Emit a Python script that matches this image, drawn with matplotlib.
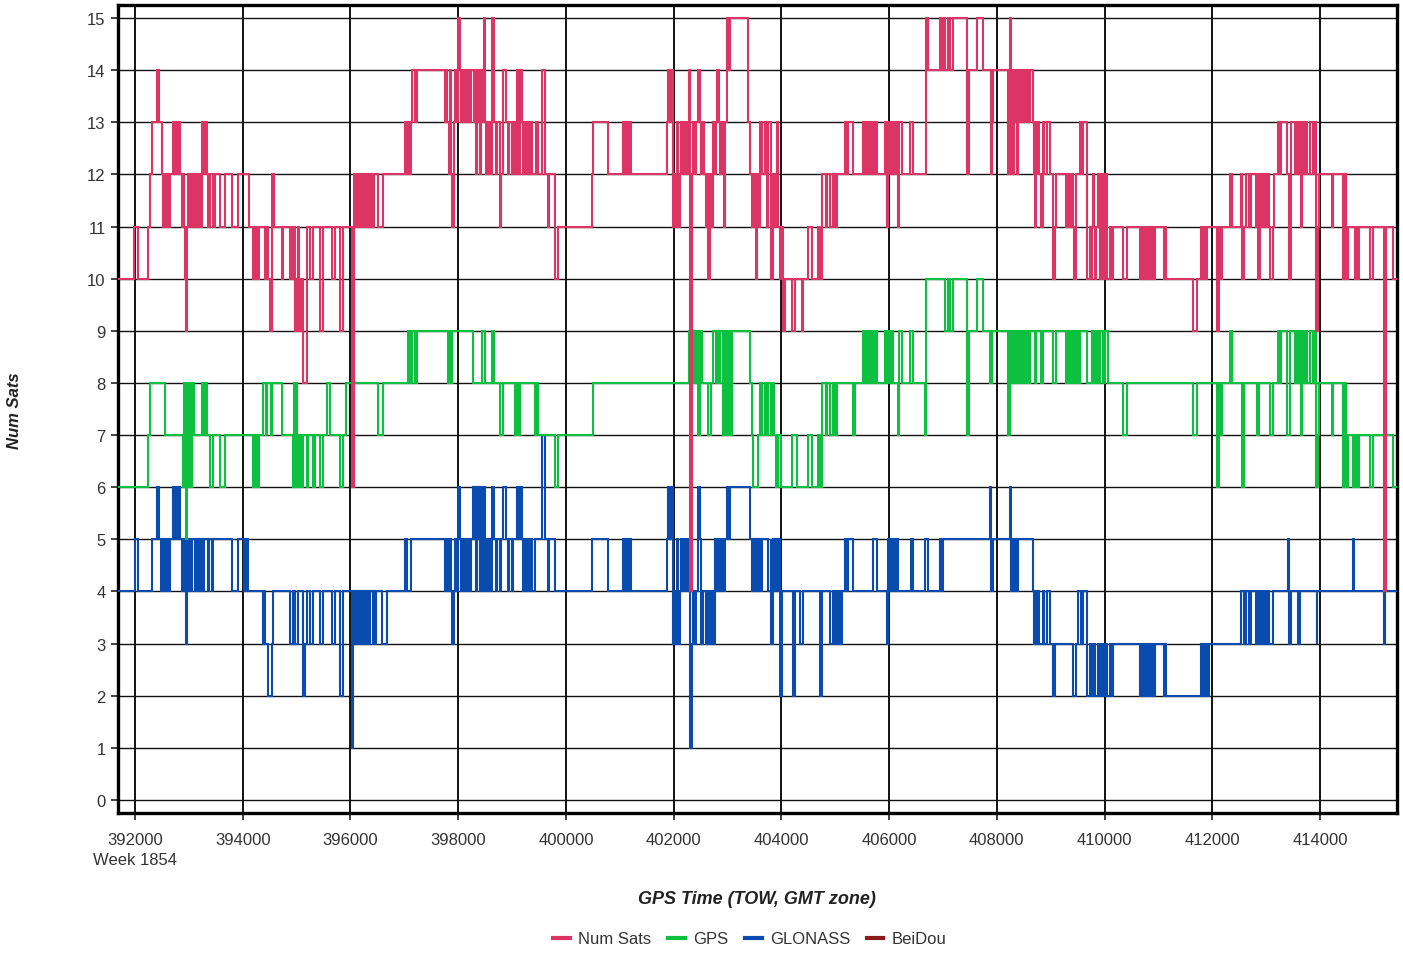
import matplotlib
matplotlib.use("Agg")
import matplotlib.pyplot as plt
from matplotlib.lines import Line2D

plt.rcParams['font.family'] = ['Liberation Sans', 'DejaVu Sans']

x_start = 391685
x_end = 415430
x_ticks = [392000, 394000, 396000, 398000, 400000, 402000, 404000,
           406000, 408000, 410000, 412000, 414000]
y_ticks = list(range(0, 16))
week_label = "Week 1854"
x_title = "GPS Time (TOW, GMT zone)"
y_title = "Num Sats"

# (TOW, value) change points, step-post
num_sats_steps = [(391685,10),(391980,11),(392060,10),(392240,11),(392280,12),(392320,13),(392410,14),(392450,13),(392500,12),(392520,11),(392540,12),(392560,11),(392580,12),(392590,11),(392610,12),(392630,11),(392650,12),(392710,13),(392720,12),(392740,13),(392760,12),(392780,13),(392800,12),(392820,13),(392840,12),(392870,11),(392890,12),(392910,11),(392930,10),(392950,9),(392970,11),(392980,12),(393000,11),(393020,12),(393040,11),(393060,12),(393080,11),(393110,12),(393130,11),(393150,12),(393170,11),(393190,12),(393200,11),(393240,13),(393280,12),(393300,13),(393340,12),(393350,11),(393390,12),(393450,11),(393480,12),(393580,11),(393670,12),(393800,11),(393910,12),(394110,11),(394190,10),(394210,11),(394230,10),(394250,11),(394270,10),(394300,11),(394410,10),(394430,11),(394470,10),(394500,9),(394540,12),(394580,11),(394730,10),(394750,11),(394870,10),(394910,11),(394930,10),(394950,11),(394970,9),(394990,10),(395010,9),(395030,11),(395040,10),(395060,9),(395080,10),(395120,8),(395190,11),(395250,10),(395300,11),(395430,9),(395490,11),(395660,10),(395710,11),(395810,9),(395870,11),(396030,6),(396070,12),(396080,11),(396100,12),(396120,11),(396140,12),(396160,11),(396180,12),(396220,11),(396230,12),(396270,11),(396290,12),(396330,11),(396350,12),(396380,11),(396400,12),(396420,11),(396440,12),(396510,11),(396600,12),(397010,13),(397050,12),(397070,13),(397110,12),(397120,13),(397140,14),(397200,13),(397240,14),(397750,13),(397770,14),(397790,13),(397830,12),(397850,14),(397870,12),(397890,11),(397920,13),(397940,14),(397960,13),(398000,15),(398030,14),(398050,13),(398070,14),(398090,13),(398110,14),(398130,13),(398140,14),(398160,13),(398180,14),(398220,13),(398240,14),(398290,13),(398310,14),(398330,12),(398350,14),(398370,13),(398390,14),(398400,12),(398420,14),(398460,13),(398480,15),(398500,13),(398510,12),(398530,13),(398550,12),(398570,13),(398590,12),(398630,15),(398670,13),(398700,12),(398720,13),(398780,11),(398800,12),(398830,14),(398890,13),(398930,12),(398940,13),(399000,12),(399020,13),(399060,12),(399090,14),(399110,13),(399130,12),(399150,14),(399180,13),(399200,12),(399220,13),(399240,12),(399270,13),(399290,12),(399330,13),(399370,12),(399450,13),(399480,12),(399560,14),(399610,12),(399670,11),(399680,12),(399800,10),(399850,11),(400490,12),(400500,13),(400780,12),(401060,13),(401100,12),(401120,13),(401150,12),(401170,13),(401210,12),(401880,13),(401900,14),(401940,13),(401960,14),(401990,11),(402030,12),(402050,11),(402060,13),(402080,11),(402120,12),(402140,13),(402170,12),(402190,13),(402230,12),(402270,13),(402290,14),(402300,4),(402340,12),(402360,13),(402400,12),(402420,13),(402450,14),(402490,13),(402510,12),(402540,13),(402570,12),(402600,11),(402620,12),(402640,10),(402670,12),(402690,11),(402730,13),(402770,12),(402790,13),(402810,14),(402840,13),(402860,12),(402900,13),(402940,11),(402950,13),(402990,15),(403030,14),(403050,15),(403380,13),(403420,12),(403460,11),(403480,12),(403500,11),(403510,12),(403530,10),(403550,12),(403570,11),(403610,13),(403650,12),(403700,13),(403740,11),(403760,13),(403800,12),(403810,10),(403850,12),(403870,11),(403890,12),(403910,11),(403920,13),(403940,11),(403980,10),(404010,11),(404030,9),(404070,10),(404200,9),(404250,10),(404380,9),(404400,10),(404500,11),(404570,10),(404680,11),(404720,10),(404760,12),(404820,11),(404850,12),(404910,11),(404950,12),(405000,11),(405030,12),(405180,13),(405220,12),(405240,13),(405330,12),(405520,13),(405540,12),(405560,13),(405590,12),(405610,13),(405650,12),(405690,13),(405720,12),(405740,13),(405780,12),(405930,13),(405950,12),(405960,11),(405980,13),(406020,12),(406040,13),(406070,12),(406090,13),(406130,12),(406150,13),(406170,11),(406180,13),(406240,12),(406390,13),(406440,12),(406690,15),(406720,14),(406940,15),(406960,14),(407000,15),(407040,14),(407090,15),(407130,14),(407190,15),(407450,12),(407480,14),(407630,15),(407740,14),(407890,12),(407910,13),(407930,14),(408210,12),(408240,15),(408260,12),(408280,14),(408300,12),(408320,14),(408340,13),(408350,14),(408370,12),(408390,14),(408430,13),(408460,14),(408500,13),(408540,14),(408580,13),(408610,14),(408670,13),(408690,12),(408710,11),(408720,13),(408740,12),(408760,13),(408780,12),(408820,11),(408850,13),(408870,12),(408930,13),(408990,12),(409040,10),(409080,11),(409100,12),(409290,11),(409320,12),(409360,11),(409400,12),(409410,11),(409430,10),(409470,12),(409550,13),(409560,12),(409600,13),(409680,10),(409730,11),(409750,10),(409770,11),(409790,12),(409810,11),(409820,10),(409840,11),(409880,12),(409900,11),(409920,10),(409930,12),(409970,10),(410010,12),(410050,10),(410100,11),(410120,10),(410160,11),(410340,10),(410420,11),(410660,10),(410700,11),(410720,10),(410750,11),(410790,10),(410820,11),(410840,10),(410880,11),(410900,10),(410930,11),(411100,10),(411120,11),(411140,10),(411640,9),(411720,10),(411790,11),(411810,10),(411830,11),(411850,10),(411870,11),(411890,10),(411900,11),(412090,9),(412130,11),(412150,10),(412180,11),(412330,12),(412370,11),(412530,12),(412550,10),(412590,11),(412630,12),(412680,11),(412720,12),(412810,11),(412830,12),(412850,10),(412890,12),(412920,11),(412960,12),(412980,11),(413020,12),(413050,11),(413070,10),(413130,11),(413150,12),(413220,13),(413260,12),(413280,13),(413390,12),(413420,10),(413460,13),(413540,12),(413570,13),(413590,12),(413630,13),(413650,11),(413670,13),(413700,12),(413720,13),(413760,12),(413820,13),(413870,12),(413890,13),(413930,9),(413970,11),(413980,12),(414220,11),(414240,12),(414430,10),(414470,12),(414480,10),(414520,11),(414650,10),(414690,11),(414710,10),(414720,11),(414930,10),(414980,11),(415180,4),(415230,11),(415360,10)]

gps_steps = [(391685,6),(392240,7),(392280,8),(392560,7),(392890,6),(392910,8),(392930,7),(392950,5),(392970,8),(392980,6),(393000,7),(393020,8),(393040,6),(393060,7),(393080,8),(393100,7),(393240,8),(393280,7),(393300,8),(393340,7),(393390,6),(393450,7),(393580,6),(393670,7),(394190,6),(394210,7),(394230,6),(394250,7),(394270,6),(394300,7),(394380,8),(394430,7),(394450,8),(394530,7),(394540,8),(394730,7),(394930,6),(394950,8),(394970,6),(394990,8),(395010,6),(395030,7),(395040,6),(395060,7),(395100,6),(395120,7),(395190,6),(395210,7),(395300,6),(395340,7),(395430,6),(395490,7),(395570,8),(395620,7),(395810,6),(395870,7),(395910,8),(396510,7),(396600,8),(397070,9),(397110,8),(397140,9),(397200,8),(397240,9),(397810,8),(397850,9),(397870,8),(397890,9),(398280,8),(398440,9),(398500,8),(398630,9),(398670,8),(398780,7),(398830,8),(399060,7),(399090,8),(399110,7),(399150,8),(399430,7),(399450,8),(399480,7),(399800,6),(399850,7),(400500,8),(402290,9),(402300,8),(402320,9),(402360,8),(402380,9),(402420,8),(402430,9),(402450,7),(402490,9),(402530,8),(402640,7),(402690,8),(402730,9),(402790,8),(402810,9),(402840,8),(402860,9),(402920,7),(402940,9),(402970,7),(403010,9),(403050,7),(403080,9),(403420,8),(403460,7),(403480,6),(403570,7),(403610,8),(403650,7),(403700,8),(403740,7),(403760,8),(403800,7),(403830,8),(403870,7),(403910,6),(403940,7),(403990,6),(404200,7),(404290,6),(404500,7),(404570,6),(404680,7),(404720,6),(404760,8),(404820,7),(404850,8),(404910,7),(404950,8),(405000,7),(405030,8),(405330,7),(405370,8),(405520,9),(405540,8),(405560,9),(405590,8),(405610,9),(405650,8),(405690,9),(405720,8),(405740,9),(405780,8),(405930,9),(405950,8),(405980,9),(406020,8),(406040,9),(406070,8),(406170,7),(406180,9),(406240,8),(406390,9),(406440,8),(406670,7),(406690,10),(407040,9),(407090,10),(407130,9),(407190,10),(407450,7),(407480,9),(407630,10),(407740,9),(407870,8),(407910,9),(408210,7),(408240,9),(408260,8),(408300,9),(408320,8),(408350,9),(408370,8),(408410,9),(408430,8),(408460,9),(408500,8),(408540,9),(408580,8),(408610,9),(408710,8),(408720,9),(408820,8),(408850,9),(409040,8),(409100,9),(409290,8),(409320,9),(409360,8),(409400,9),(409430,8),(409470,9),(409510,8),(409550,9),(409680,8),(409770,9),(409810,8),(409840,9),(409880,8),(409920,9),(409970,8),(410010,9),(410060,8),(410340,7),(410420,8),(411640,7),(411720,8),(412090,6),(412130,8),(412150,7),(412180,8),(412330,9),(412370,8),(412550,6),(412590,8),(412830,7),(412870,8),(413070,7),(413130,8),(413220,9),(413260,8),(413280,9),(413390,7),(413440,9),(413540,8),(413570,9),(413610,8),(413630,9),(413650,7),(413670,9),(413700,8),(413720,9),(413760,8),(413820,9),(413870,8),(413890,9),(413930,6),(413970,7),(413980,8),(414220,7),(414240,8),(414430,6),(414470,8),(414480,6),(414520,7),(414610,6),(414630,7),(414650,6),(414690,7),(414710,6),(414720,7),(414930,6),(414980,7),(415360,6)]

glonass_steps = [(391685,4),(392000,5),(392060,4),(392320,5),(392410,6),(392450,5),(392480,4),(392500,5),(392520,4),(392540,5),(392560,4),(392580,5),(392610,4),(392650,5),(392710,6),(392720,5),(392740,6),(392760,5),(392780,6),(392800,5),(392820,6),(392840,5),(392870,4),(392890,5),(392910,4),(392930,5),(392950,3),(392970,4),(392980,5),(393000,4),(393020,5),(393040,4),(393060,5),(393110,4),(393130,5),(393150,4),(393170,5),(393190,4),(393200,5),(393220,4),(393240,5),(393260,4),(393280,5),(393350,4),(393370,5),(393430,4),(393450,5),(393800,4),(393910,5),(394020,4),(394060,5),(394100,4),(394380,3),(394400,4),(394410,3),(394470,2),(394540,3),(394560,4),(394870,3),(394930,4),(394970,3),(395030,4),(395120,2),(395160,3),(395190,4),(395250,3),(395300,4),(395430,3),(395490,4),(395660,3),(395710,4),(395810,2),(395870,4),(396030,1),(396050,3),(396070,4),(396080,3),(396100,4),(396120,3),(396140,4),(396160,3),(396180,4),(396200,3),(396220,4),(396230,3),(396250,4),(396290,3),(396310,4),(396350,3),(396360,4),(396420,3),(396440,4),(396460,3),(396480,4),(396590,3),(396680,4),(397010,5),(397050,4),(397120,5),(397750,4),(397770,5),(397790,4),(397810,5),(397830,4),(397850,5),(397870,4),(397890,3),(397920,4),(397940,5),(397960,4),(398000,6),(398030,5),(398050,4),(398070,5),(398090,4),(398110,5),(398130,4),(398140,5),(398160,4),(398180,5),(398220,4),(398240,5),(398280,6),(398290,5),(398310,6),(398330,4),(398350,6),(398370,5),(398390,6),(398400,4),(398420,6),(398440,5),(398460,4),(398480,6),(398500,5),(398510,4),(398530,5),(398550,4),(398570,5),(398590,4),(398630,6),(398670,5),(398700,4),(398720,5),(398780,4),(398800,5),(398830,6),(398890,5),(398930,4),(398940,5),(399000,4),(399020,5),(399090,6),(399130,5),(399150,6),(399180,5),(399200,4),(399220,5),(399240,4),(399270,5),(399290,4),(399330,5),(399370,4),(399430,5),(399560,7),(399610,5),(399670,4),(399680,5),(399800,4),(400490,5),(400780,4),(401060,5),(401100,4),(401120,5),(401150,4),(401170,5),(401210,4),(401880,5),(401900,6),(401940,5),(401960,6),(401990,3),(402030,4),(402050,3),(402060,5),(402080,3),(402120,4),(402140,5),(402170,4),(402190,5),(402230,4),(402270,5),(402300,1),(402340,3),(402360,4),(402400,3),(402420,4),(402450,6),(402490,5),(402510,3),(402540,4),(402600,3),(402620,4),(402640,3),(402670,4),(402690,3),(402730,4),(402750,3),(402770,5),(402810,4),(402820,5),(402860,4),(402900,5),(402940,4),(402950,5),(402990,6),(403030,5),(403050,6),(403420,5),(403460,4),(403480,5),(403500,4),(403510,5),(403530,4),(403550,5),(403570,4),(403590,5),(403610,4),(403650,5),(403760,4),(403800,5),(403810,3),(403850,5),(403870,4),(403890,5),(403910,4),(403920,5),(403940,4),(403960,5),(403980,2),(404010,4),(404220,2),(404250,4),(404350,3),(404400,4),(404720,2),(404760,4),(404910,3),(404950,4),(404980,3),(405020,4),(405050,3),(405090,4),(405110,3),(405130,4),(405180,5),(405220,4),(405240,5),(405330,4),(405700,5),(405780,4),(405960,3),(405980,5),(406020,4),(406040,5),(406070,4),(406090,5),(406130,4),(406150,5),(406170,4),(406410,5),(406440,4),(406670,5),(406720,4),(406940,5),(406960,4),(407000,5),(407870,6),(407890,4),(407930,5),(408240,6),(408260,4),(408280,5),(408300,4),(408320,5),(408340,4),(408350,5),(408370,4),(408390,5),(408670,4),(408690,3),(408720,4),(408740,3),(408760,4),(408780,3),(408850,4),(408870,3),(408930,4),(408990,3),(409040,2),(409080,3),(409410,2),(409470,3),(409510,4),(409560,3),(409600,4),(409680,2),(409730,3),(409750,2),(409790,3),(409820,2),(409880,3),(409900,2),(409930,3),(409970,2),(410010,3),(410050,2),(410100,3),(410120,2),(410160,3),(410660,2),(410700,3),(410720,2),(410750,3),(410790,2),(410820,3),(410840,2),(410880,3),(410900,2),(410930,3),(411100,2),(411120,3),(411140,2),(411790,3),(411810,2),(411830,3),(411850,2),(411870,3),(411890,2),(411900,3),(411920,2),(411940,3),(412530,4),(412590,3),(412630,4),(412680,3),(412720,4),(412810,3),(412830,4),(412850,3),(412890,4),(412920,3),(412960,4),(412980,3),(413020,4),(413050,3),(413130,4),(413400,5),(413420,3),(413460,4),(413590,3),(413630,4),(413940,3),(413950,4),(414620,5),(414640,4),(415180,3),(415210,4)]

beidou_steps = []

series_names = ["Num Sats", "GPS", "GLONASS", "BeiDou"]
series_colors = ["#DC3565", "#0DC040", "#0A4BB0", "#8E1B1B"]

fig = plt.figure(figsize=(14.03, 9.54), dpi=100)
ax = fig.add_axes([118/1403, 1-814/954, (1397-118)/1403, (814-6)/954])

all_steps = [num_sats_steps, gps_steps, glonass_steps, beidou_steps]
zorders = [5, 4, 3, 2]
for name, steps, col, z in zip(series_names, all_steps, series_colors, zorders):
    if steps:
        ts = [t for t, v in steps] + [x_end]
        vs = [v for t, v in steps] + [steps[-1][1]]
        ax.plot(ts, vs, drawstyle='steps-post', color=col, lw=1.5, zorder=z,
                solid_joinstyle='miter')

ax.set_xlim(x_start, x_end)
ax.set_ylim(-0.25, 15.25)
ax.set_xticks(x_ticks)
ax.set_xticklabels([str(t) for t in x_ticks])
ax.set_yticks(y_ticks)
ax.set_yticklabels([str(v) for v in y_ticks])
ax.grid(True, color='#111111', lw=1.0, zorder=1)
for ln in ax.get_xgridlines():
    ln.set_linewidth(1.4)
for s in ax.spines.values():
    s.set_linewidth(2.4)
    s.set_color('black')
ax.tick_params(axis='both', direction='out', length=5, width=1.2,
               color='#222222', labelsize=12, labelcolor='#333333')
ax.tick_params(axis='y', pad=4)
ax.tick_params(axis='x', pad=9)

fig.text(135/1403, 1-861/954, week_label, ha='center', va='center',
         fontsize=12, color='#333333')
fig.text(757/1403, 1-899/954, x_title, ha='center', va='center',
         fontsize=13, fontweight='bold', fontstyle='italic', color='#222222')
fig.text(15/1403, 1-411/954, y_title, ha='center', va='center', rotation=90,
         fontsize=12, fontweight='bold', fontstyle='italic', color='#222222')

handles = [Line2D([0], [0], color=c, lw=3) for c in series_colors]
fig.legend(handles, series_names, loc='center', bbox_to_anchor=(750/1403, 1-940/954),
           ncol=4, frameon=False, fontsize=12, handlelength=1.0, handletextpad=0.5,
           columnspacing=1.0, labelcolor='#333333')

fig.savefig("out.png", dpi=100)
